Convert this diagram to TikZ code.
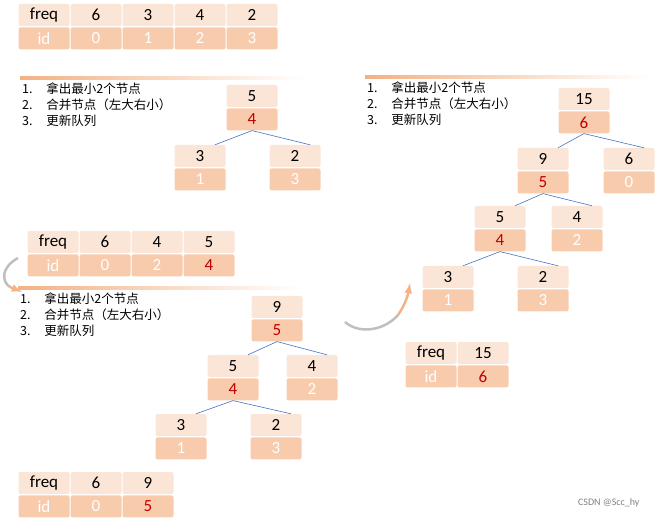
\documentclass[tikz,border=0pt]{standalone}
\usepackage{fontspec}
\setmainfont{Carlito}
\newfontfamily\cjk{Noto Sans CJK SC}
\usepackage{tikz}
\usetikzlibrary{positioning}
\definecolor{CellLight}{HTML}{FBE5D6}
\definecolor{CellDark}{HTML}{F8CBAD}
\definecolor{NewRed}{HTML}{C00000}
\definecolor{EdgeBlue}{HTML}{4472C4}
\definecolor{RuleOrange}{HTML}{F4B183}
\tikzset{
  cellbox/.style={minimum width=51pt, minimum height=22pt, inner sep=0pt, rounded corners=2pt, font=\fontsize{17}{17}\selectfont},
  freqcell/.style={cellbox, fill=CellLight},
  idcell/.style={cellbox, fill=CellDark, text=white},
  newid/.style={idcell, text=NewRed},
  edge/.style={EdgeBlue, line width=0.6pt},
  steplist/.style={anchor=north west, align=left, font=\cjk\fontsize{12.5}{16}\selectfont, inner sep=0pt},
}
% one node of a tree: freq cell above, id cell below
\newcommand{\treepair}[6]{%
  \node[freqcell] (#1t) at (#2,#3) {#4};
  \node[#6, below=1pt of #1t] (#1b) {#5};
}
\newcommand{\steps}[3]{%
  \shade[left color=RuleOrange, right color=white] (#2,#3-1.5) rectangle (#2+285,#3+1.5);
  \node[steplist] (#1) at (#2+2,#3+5) {1.\hspace{1.1em}拿出最小2个节点\\2.\hspace{1.1em}合并节点（左大右小）\\3.\hspace{1.1em}更新队列};
}
\begin{document}
\begin{tikzpicture}[x=1pt, y=-1pt]
  \useasboundingbox (0,0) rectangle (658,518);

  % initial queue
  \node[freqcell] (qa0) at (44,15) {freq};
  \node[idcell, below=1pt of qa0] (qa0b) {id};
  \treepair{qa1}{96}{15}{6}{0}{idcell}
  \treepair{qa2}{148}{15}{3}{1}{idcell}
  \treepair{qa3}{200}{15}{4}{2}{idcell}
  \treepair{qa4}{252}{15}{2}{3}{idcell}

  % step 1
  \steps{sa}{20}{78}
  \treepair{ta}{252}{96}{5}{4}{newid}
  \treepair{taL}{200}{156}{3}{1}{idcell}
  \treepair{taR}{295}{156}{2}{3}{idcell}
  \draw[edge] (tab.south) -- ([xshift=15pt]taLt.north);
  \draw[edge] (tab.south) -- ([xshift=15pt]taRt.north);

  % queue after step 1
  \node[freqcell] (qb0) at (53,242) {freq};
  \node[idcell, below=1pt of qb0] (qb0b) {id};
  \treepair{qb1}{105}{242}{6}{0}{idcell}
  \treepair{qb2}{157}{242}{4}{2}{idcell}
  \treepair{qb3}{209}{242}{5}{4}{newid}

  % step 2
  \steps{sb}{18}{288}
  \treepair{tb}{277}{307}{9}{5}{newid}
  \treepair{tbL}{233}{366}{5}{4}{newid}
  \treepair{tbR}{312}{366}{4}{2}{idcell}
  \treepair{tbLL}{181}{425}{3}{1}{idcell}
  \treepair{tbLR}{276}{425}{2}{3}{idcell}
  \draw[edge] (tbb.south) -- ([xshift=15pt]tbLt.north);
  \draw[edge] (tbb.south) -- ([xshift=15pt]tbRt.north);
  \draw[edge] (tbLb.south) -- ([xshift=15pt]tbLLt.north);
  \draw[edge] (tbLb.south) -- ([xshift=15pt]tbLRt.north);

  % queue after step 2
  \node[freqcell] (qc0) at (44,483) {freq};
  \node[idcell, below=1pt of qc0] (qc0b) {id};
  \treepair{qc1}{96}{483}{6}{0}{idcell}
  \treepair{qc2}{148}{483}{9}{5}{newid}

  % step 3
  \steps{sc}{365}{77}
  \treepair{tc}{584}{99}{15}{6}{newid}
  \treepair{tcL}{543}{159}{9}{5}{newid}
  \treepair{tcR}{629}{159}{6}{0}{idcell}
  \treepair{tcLL}{500}{217}{5}{4}{newid}
  \treepair{tcLR}{577}{217}{4}{2}{idcell}
  \treepair{tcLLL}{448}{277}{3}{1}{idcell}
  \treepair{tcLLR}{543}{277}{2}{3}{idcell}
  \draw[edge] (tcb.south) -- ([xshift=15pt]tcLt.north);
  \draw[edge] (tcb.south) -- ([xshift=15pt]tcRt.north);
  \draw[edge] (tcLb.south) -- ([xshift=15pt]tcLLt.north);
  \draw[edge] (tcLb.south) -- ([xshift=15pt]tcLRt.north);
  \draw[edge] (tcLLb.south) -- ([xshift=15pt]tcLLLt.north);
  \draw[edge] (tcLLb.south) -- ([xshift=15pt]tcLLRt.north);

  % final queue
  \node[freqcell] (qd0) at (431,353) {freq};
  \node[idcell, below=1pt of qd0] (qd0b) {id};
  \treepair{qd1}{483}{353}{15}{6}{newid}

  % curved arrows between stages
  \coordinate (ca1) at (18,258);
  \coordinate (ca2) at (22,292);
  \draw[gray!50, line width=2.5pt] (ca1) .. controls (0,268) and (2,282) .. (10,287);
  \draw[RuleOrange, line width=2.5pt, -latex] (10,287) -- (ca2);
  \coordinate (cb1) at (345,322);
  \coordinate (cb2) at (410,283);
  \draw[gray!50, line width=2.5pt] (cb1) .. controls (360,335) and (385,330) .. (398,315);
  \draw[RuleOrange, line width=2.5pt, -latex] (398,315) .. controls (405,305) and (408,295) .. (cb2);

  \node[text=gray, font=\fontsize{10}{10}\selectfont, anchor=east] (mark) at (643,503) {CSDN @Scc\_hy};
\end{tikzpicture}
\end{document}
